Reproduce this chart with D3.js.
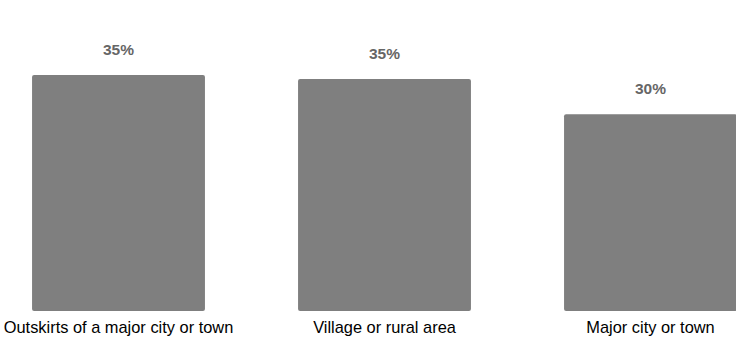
<!DOCTYPE html>
<html><head><meta charset="utf-8">
<script src="https://cdn.jsdelivr.net/npm/d3@7"></script>
<style>body{margin:0;background:#fff}</style>
</head><body>
<svg id="c" width="736" height="341"></svg>
<script>
const categories = ["Outskirts of a major city or town", "Village or rural area", "Major city or town"];
const values = [35.4, 34.8, 29.5];
const valueLabels = ["35%", "35%", "30%"];

const svg = d3.select("#c");
const x = d3.scaleBand().domain(categories).range([-14.5, 783.5]).paddingInner(0.35).paddingOuter(0.175);
const y = d3.scaleLinear().domain([0, 40]).range([311, 44.33]);

svg.selectAll("rect").data(categories).join("rect")
  .attr("x", d => x(d)).attr("width", x.bandwidth())
  .attr("y", (d, i) => y(values[i])).attr("height", (d, i) => y(0) - y(values[i]))
  .attr("rx", 2).attr("fill", "#7f7f7f");

svg.selectAll("text.v").data(categories).join("text").attr("class", "v")
  .attr("x", d => x(d) + x.bandwidth() / 2)
  .attr("y", (d, i) => y(values[i]) - 20)
  .attr("text-anchor", "middle")
  .attr("font-family", "Liberation Sans, Arial, sans-serif")
  .attr("font-weight", "bold").attr("font-size", 15.5).attr("fill", "#666")
  .text((d, i) => valueLabels[i]);

const xa = svg.append("g").attr("transform", "translate(0,311)")
  .call(d3.axisBottom(x).tickSize(0).tickPadding(6));
xa.select(".domain").remove();
xa.selectAll("text").attr("font-family", "Liberation Sans, Arial, sans-serif")
  .attr("font-size", 16.4).attr("fill", "#000").attr("y", 22).attr("dy", 0);
</script>
</body></html>
